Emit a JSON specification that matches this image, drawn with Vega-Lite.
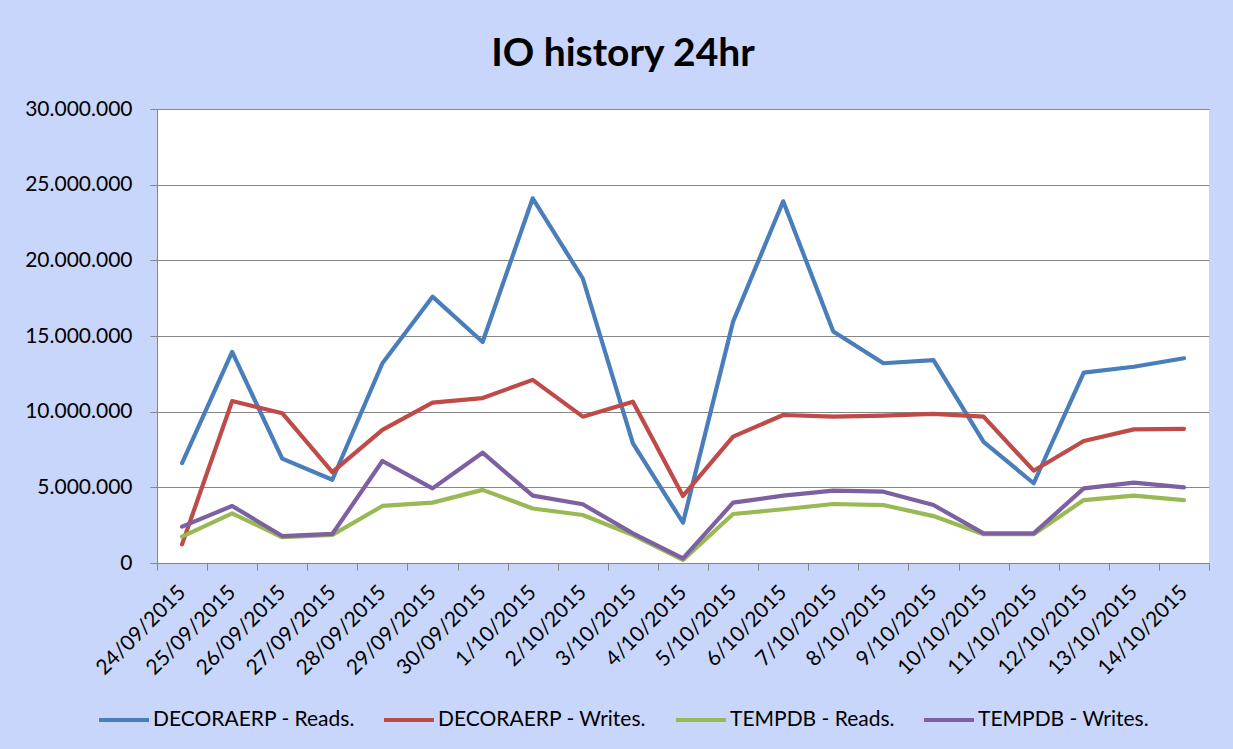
{
  "$schema": "https://vega.github.io/schema/vega-lite/v6.json",
  "width": 1052,
  "height": 454,
  "autosize": {"type": "none"},
  "padding": {"left": 157, "top": 109, "right": 24, "bottom": 186},
  "background": "#C8D6FB",
  "title": {
    "text": "IO history 24hr",
    "font": "Lato",
    "fontSize": 39,
    "fontWeight": "bold",
    "color": "#000000",
    "anchor": "middle",
    "frame": "group",
    "dx": -60,
    "dy": 35,
    "baseline": "alphabetic",
    "offset": 28
  },
  "config": {
    "locale": {"number": {"decimal": ",", "thousands": ".", "grouping": [3], "currency": ["", " €"]}},
    "view": {"fill": "#FFFFFF", "stroke": null},
    "font": "Lato"
  },
  "data": {
    "values": [
      {"date": "24/09/2015", "series": "DECORAERP - Reads.", "value": 6600000},
      {"date": "25/09/2015", "series": "DECORAERP - Reads.", "value": 13950000},
      {"date": "26/09/2015", "series": "DECORAERP - Reads.", "value": 6900000},
      {"date": "27/09/2015", "series": "DECORAERP - Reads.", "value": 5500000},
      {"date": "28/09/2015", "series": "DECORAERP - Reads.", "value": 13200000},
      {"date": "29/09/2015", "series": "DECORAERP - Reads.", "value": 17600000},
      {"date": "30/09/2015", "series": "DECORAERP - Reads.", "value": 14600000},
      {"date": "1/10/2015", "series": "DECORAERP - Reads.", "value": 24100000},
      {"date": "2/10/2015", "series": "DECORAERP - Reads.", "value": 18800000},
      {"date": "3/10/2015", "series": "DECORAERP - Reads.", "value": 7900000},
      {"date": "4/10/2015", "series": "DECORAERP - Reads.", "value": 2660000},
      {"date": "5/10/2015", "series": "DECORAERP - Reads.", "value": 15950000},
      {"date": "6/10/2015", "series": "DECORAERP - Reads.", "value": 23900000},
      {"date": "7/10/2015", "series": "DECORAERP - Reads.", "value": 15300000},
      {"date": "8/10/2015", "series": "DECORAERP - Reads.", "value": 13200000},
      {"date": "9/10/2015", "series": "DECORAERP - Reads.", "value": 13400000},
      {"date": "10/10/2015", "series": "DECORAERP - Reads.", "value": 8000000},
      {"date": "11/10/2015", "series": "DECORAERP - Reads.", "value": 5270000},
      {"date": "12/10/2015", "series": "DECORAERP - Reads.", "value": 12580000},
      {"date": "13/10/2015", "series": "DECORAERP - Reads.", "value": 12970000},
      {"date": "14/10/2015", "series": "DECORAERP - Reads.", "value": 13530000},
      {"date": "24/09/2015", "series": "DECORAERP - Writes.", "value": 1230000},
      {"date": "25/09/2015", "series": "DECORAERP - Writes.", "value": 10700000},
      {"date": "26/09/2015", "series": "DECORAERP - Writes.", "value": 9900000},
      {"date": "27/09/2015", "series": "DECORAERP - Writes.", "value": 6000000},
      {"date": "28/09/2015", "series": "DECORAERP - Writes.", "value": 8800000},
      {"date": "29/09/2015", "series": "DECORAERP - Writes.", "value": 10600000},
      {"date": "30/09/2015", "series": "DECORAERP - Writes.", "value": 10900000},
      {"date": "1/10/2015", "series": "DECORAERP - Writes.", "value": 12100000},
      {"date": "2/10/2015", "series": "DECORAERP - Writes.", "value": 9670000},
      {"date": "3/10/2015", "series": "DECORAERP - Writes.", "value": 10660000},
      {"date": "4/10/2015", "series": "DECORAERP - Writes.", "value": 4430000},
      {"date": "5/10/2015", "series": "DECORAERP - Writes.", "value": 8350000},
      {"date": "6/10/2015", "series": "DECORAERP - Writes.", "value": 9780000},
      {"date": "7/10/2015", "series": "DECORAERP - Writes.", "value": 9670000},
      {"date": "8/10/2015", "series": "DECORAERP - Writes.", "value": 9740000},
      {"date": "9/10/2015", "series": "DECORAERP - Writes.", "value": 9850000},
      {"date": "10/10/2015", "series": "DECORAERP - Writes.", "value": 9670000},
      {"date": "11/10/2015", "series": "DECORAERP - Writes.", "value": 6100000},
      {"date": "12/10/2015", "series": "DECORAERP - Writes.", "value": 8060000},
      {"date": "13/10/2015", "series": "DECORAERP - Writes.", "value": 8830000},
      {"date": "14/10/2015", "series": "DECORAERP - Writes.", "value": 8860000},
      {"date": "24/09/2015", "series": "TEMPDB - Reads.", "value": 1740000},
      {"date": "25/09/2015", "series": "TEMPDB - Reads.", "value": 3280000},
      {"date": "26/09/2015", "series": "TEMPDB - Reads.", "value": 1700000},
      {"date": "27/09/2015", "series": "TEMPDB - Reads.", "value": 1850000},
      {"date": "28/09/2015", "series": "TEMPDB - Reads.", "value": 3770000},
      {"date": "29/09/2015", "series": "TEMPDB - Reads.", "value": 3990000},
      {"date": "30/09/2015", "series": "TEMPDB - Reads.", "value": 4830000},
      {"date": "1/10/2015", "series": "TEMPDB - Reads.", "value": 3600000},
      {"date": "2/10/2015", "series": "TEMPDB - Reads.", "value": 3170000},
      {"date": "3/10/2015", "series": "TEMPDB - Reads.", "value": 1850000},
      {"date": "4/10/2015", "series": "TEMPDB - Reads.", "value": 200000},
      {"date": "5/10/2015", "series": "TEMPDB - Reads.", "value": 3240000},
      {"date": "6/10/2015", "series": "TEMPDB - Reads.", "value": 3550000},
      {"date": "7/10/2015", "series": "TEMPDB - Reads.", "value": 3900000},
      {"date": "8/10/2015", "series": "TEMPDB - Reads.", "value": 3830000},
      {"date": "9/10/2015", "series": "TEMPDB - Reads.", "value": 3100000},
      {"date": "10/10/2015", "series": "TEMPDB - Reads.", "value": 1900000},
      {"date": "11/10/2015", "series": "TEMPDB - Reads.", "value": 1900000},
      {"date": "12/10/2015", "series": "TEMPDB - Reads.", "value": 4160000},
      {"date": "13/10/2015", "series": "TEMPDB - Reads.", "value": 4450000},
      {"date": "14/10/2015", "series": "TEMPDB - Reads.", "value": 4160000},
      {"date": "24/09/2015", "series": "TEMPDB - Writes.", "value": 2400000},
      {"date": "25/09/2015", "series": "TEMPDB - Writes.", "value": 3770000},
      {"date": "26/09/2015", "series": "TEMPDB - Writes.", "value": 1780000},
      {"date": "27/09/2015", "series": "TEMPDB - Writes.", "value": 1920000},
      {"date": "28/09/2015", "series": "TEMPDB - Writes.", "value": 6740000},
      {"date": "29/09/2015", "series": "TEMPDB - Writes.", "value": 4930000},
      {"date": "30/09/2015", "series": "TEMPDB - Writes.", "value": 7290000},
      {"date": "1/10/2015", "series": "TEMPDB - Writes.", "value": 4450000},
      {"date": "2/10/2015", "series": "TEMPDB - Writes.", "value": 3880000},
      {"date": "3/10/2015", "series": "TEMPDB - Writes.", "value": 1960000},
      {"date": "4/10/2015", "series": "TEMPDB - Writes.", "value": 300000},
      {"date": "5/10/2015", "series": "TEMPDB - Writes.", "value": 3990000},
      {"date": "6/10/2015", "series": "TEMPDB - Writes.", "value": 4450000},
      {"date": "7/10/2015", "series": "TEMPDB - Writes.", "value": 4780000},
      {"date": "8/10/2015", "series": "TEMPDB - Writes.", "value": 4710000},
      {"date": "9/10/2015", "series": "TEMPDB - Writes.", "value": 3830000},
      {"date": "10/10/2015", "series": "TEMPDB - Writes.", "value": 1960000},
      {"date": "11/10/2015", "series": "TEMPDB - Writes.", "value": 1960000},
      {"date": "12/10/2015", "series": "TEMPDB - Writes.", "value": 4930000},
      {"date": "13/10/2015", "series": "TEMPDB - Writes.", "value": 5310000},
      {"date": "14/10/2015", "series": "TEMPDB - Writes.", "value": 5000000}
    ]
  },
  "mark": {"type": "line", "strokeWidth": 4.2, "strokeJoin": "round", "strokeCap": "round"},
  "encoding": {
    "x": {
      "field": "date",
      "type": "ordinal",
      "sort": null,
      "scale": {"type": "band", "paddingInner": 0, "paddingOuter": 0},
      "axis": {
        "title": null,
        "tickBand": "extent",
        "labelAngle": -45,
        "labelAlign": "right",
        "labelBaseline": "middle",
        "labelFont": "Lato",
        "labelFontSize": 21,
        "labelColor": "#000000",
        "labelPadding": 19,
        "tickSize": 7,
        "tickColor": "#868686",
        "domainColor": "#868686",
        "grid": false
      }
    },
    "y": {
      "field": "value",
      "type": "quantitative",
      "scale": {"domain": [0, 30000000], "nice": false},
      "axis": {
        "title": null,
        "values": [0, 5000000, 10000000, 15000000, 20000000, 25000000, 30000000],
        "format": ",d",
        "labelFont": "Lato",
        "labelFontSize": 21,
        "labelColor": "#000000",
        "labelPadding": 18,
        "tickSize": 7,
        "tickColor": "#868686",
        "domainColor": "#868686",
        "grid": true,
        "gridColor": "#868686",
        "gridOpacity": 1
      }
    },
    "color": {
      "field": "series",
      "type": "nominal",
      "scale": {
        "domain": ["DECORAERP - Reads.", "DECORAERP - Writes.", "TEMPDB - Reads.", "TEMPDB - Writes."],
        "range": ["#4A7EBB", "#BE4B48", "#98B954", "#7D60A0"]
      },
      "legend": {
        "title": null,
        "orient": "none",
        "legendX": -60,
        "legendY": 584,
        "direction": "horizontal",
        "padding": 0,
        "symbolType": "stroke",
        "symbolSize": 2500,
        "symbolStrokeWidth": 4,
        "labelFont": "Lato",
        "labelFontSize": 21,
        "labelColor": "#000000",
        "labelOffset": 2,
        "columnPadding": 21,
        "labelLimit": 400
      }
    }
  }
}
